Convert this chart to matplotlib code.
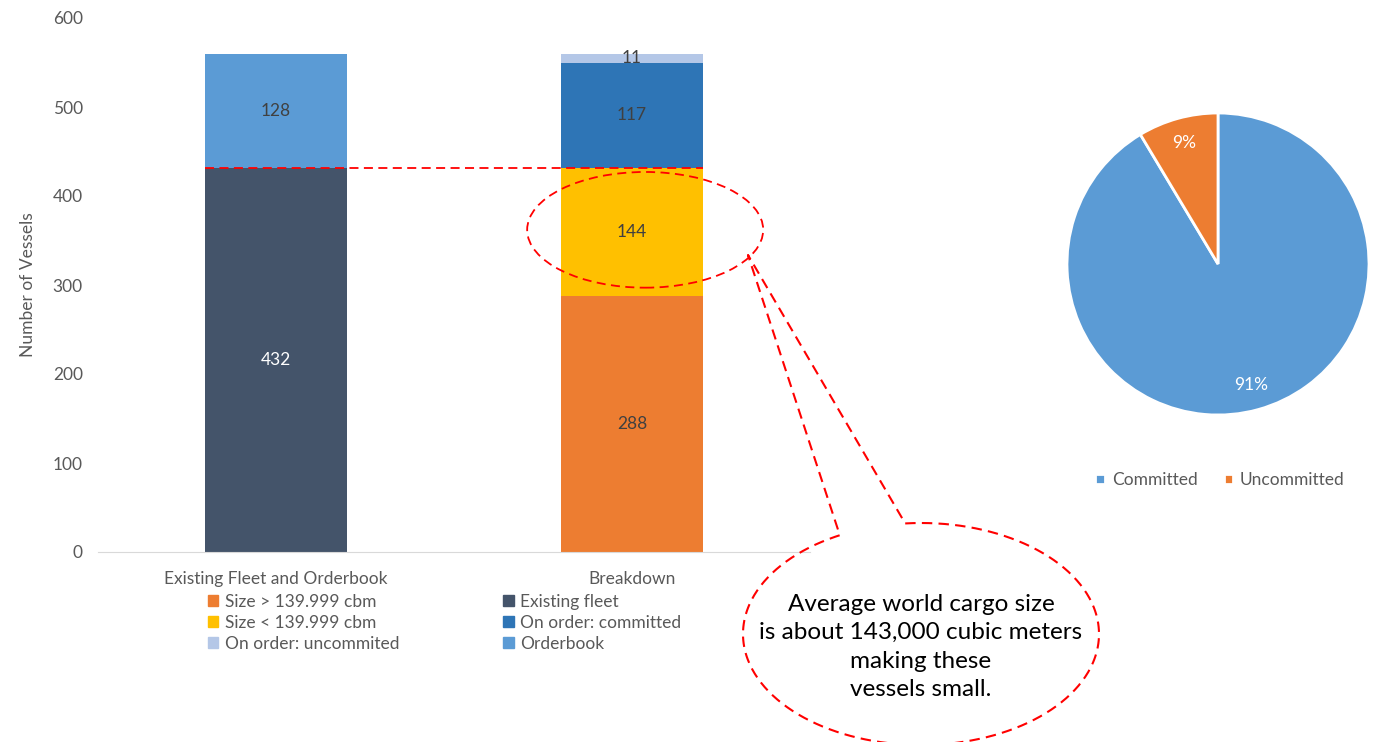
import matplotlib.pyplot as plt
from matplotlib.patches import Ellipse, Patch
import numpy as np

plt.rcParams['font.family'] = ['Lato', 'DejaVu Sans']

# bar chart data
categories = ["Existing Fleet and Orderbook", "Breakdown"]
existing_fleet = [432, 0]
orderbook = [128, 0]
size_large = [0, 288]
size_small = [0, 144]
on_order_committed = [0, 117]
on_order_uncommitted = [0, 11]

# pie data
pie_labels = ["Committed", "Uncommitted"]
pie_values = [117, 11]

# colours
c_dark = "#44546A"
c_orderbook = "#5B9BD5"
c_orange = "#ED7D31"
c_yellow = "#FFC000"
c_committed = "#2E75B6"
c_uncommitted = "#B4C7E7"
grey = "#595959"

W, H = 1374, 742
fig = plt.figure(figsize=(W / 100, H / 100), dpi=100)

# ---- stacked bars ----
ax = fig.add_axes([98 / W, 1 - 552 / H, 712 / W, 534 / H])
x = np.arange(len(categories))
bw = 0.4

series = [
    ("Existing fleet", existing_fleet, c_dark, "white"),
    ("Orderbook", orderbook, c_orderbook, "#404040"),
    ("Size > 139.999 cbm", size_large, c_orange, "#404040"),
    ("Size < 139.999 cbm", size_small, c_yellow, "#404040"),
    ("On order: committed", on_order_committed, c_committed, "#404040"),
    ("On order: uncommited", on_order_uncommitted, c_uncommitted, "#404040"),
]
bottom = np.zeros(len(categories))
colors = {}
for name, vals, col, tcol in series:
    vals = np.array(vals, dtype=float)
    ax.bar(x, vals, bw, bottom=bottom, color=col, label=name)
    colors[name] = col
    for xi, v, b in zip(x, vals, bottom):
        if v > 0:
            ax.text(xi, b + v / 2, f"{int(v)}", ha="center", va="center",
                    fontsize=12.5, color=tcol)
    bottom += vals

ax.set_xlim(-0.5, 1.5)
ax.set_ylim(0, 600)
ax.set_yticks(range(0, 601, 100))
ax.set_xticks(x)
ax.set_xticklabels(categories)
ax.tick_params(axis="both", length=0, labelsize=12.5, colors=grey)
ax.tick_params(axis="y", pad=11)
ax.tick_params(axis="x", pad=14)
for s in ["top", "right", "left"]:
    ax.spines[s].set_visible(False)
ax.spines["bottom"].set_color("#D9D9D9")
ax.set_ylabel("Number of Vessels", fontsize=12.5, color=grey, labelpad=12)

# red dashed reference line at top of existing fleet and ellipse around 144
ax.plot([-0.2, 1.2], [existing_fleet[0], existing_fleet[0]], color="red",
        ls=(0, (5, 3)), lw=1.3)
ax.add_patch(Ellipse((1.037, 362), 0.663, 130, fill=False, ec="red",
                     ls=(0, (5, 3)), lw=1.3))

order = ["Size > 139.999 cbm", "Size < 139.999 cbm", "On order: uncommited",
         "Existing fleet", "On order: committed", "Orderbook"]
fig.legend([Patch(color=colors[n]) for n in order], order,
           ncol=2, loc="upper left", bbox_to_anchor=(201 / W, 1 - 587 / H),
           frameon=False, fontsize=12.5, labelcolor=grey, handlelength=0.6,
           handleheight=0.6, handletextpad=0.4, columnspacing=5.95,
           labelspacing=0.28, borderaxespad=0)

# ---- pie ----
r = 151
pax = fig.add_axes([(1218 - r) / W, 1 - (264 + r) / H, 2 * r / W, 2 * r / H])
wedges, _, autotexts = pax.pie(pie_values, colors=[c_orderbook, c_orange],
                               startangle=90, counterclock=False,
                               autopct="%1.0f%%", pctdistance=0.83,
                               wedgeprops=dict(edgecolor="white", linewidth=2),
                               textprops=dict(color="white", fontsize=12.5))
pax.set_xlim(-1.0, 1.0)
pax.set_ylim(-1.0, 1.0)
pax.set_aspect("equal")
fig.legend(wedges, pie_labels, ncol=2, loc="center",
           bbox_to_anchor=(1220 / W, 1 - 480 / H), frameon=False, fontsize=12.5,
           labelcolor=grey, handlelength=0.55, handleheight=0.55,
           handletextpad=0.4, columnspacing=1.5)

# ---- callout bubble ----
ov = fig.add_axes([0, 0, 1, 1], facecolor="none")
ov.set_xlim(0, W)
ov.set_ylim(H, 0)
ov.axis("off")
cx, cy, rx, ry = 921, 634, 178, 111
ang_a = np.arctan2((533 - cy) / ry, (838 - cx) / rx)
ang_b = np.arctan2((522 - cy) / ry, (905 - cx) / rx)
if ang_a < ang_b:
    ang_a += 2 * np.pi
arc = np.linspace(ang_b, ang_a, 400)
ex = cx + rx * np.cos(arc)
ey = cy + ry * np.sin(arc)
# pointer: from one end of the arc up to the tip and back to the other end
path_x = np.concatenate([ex, [748], [ex[0]]])
path_y = np.concatenate([ey, [255], [ey[0]]])
ov.plot(path_x, path_y, color="red", ls=(0, (5, 3)), lw=1.5, clip_on=False)
ov.text(cx, 647, "Average world cargo size\nis about 143,000 cubic meters\nmaking these\nvessels small.",
        ha="center", va="center", fontsize=17.5, color="black", linespacing=1.45)

fig.savefig("out.png", dpi=100)
